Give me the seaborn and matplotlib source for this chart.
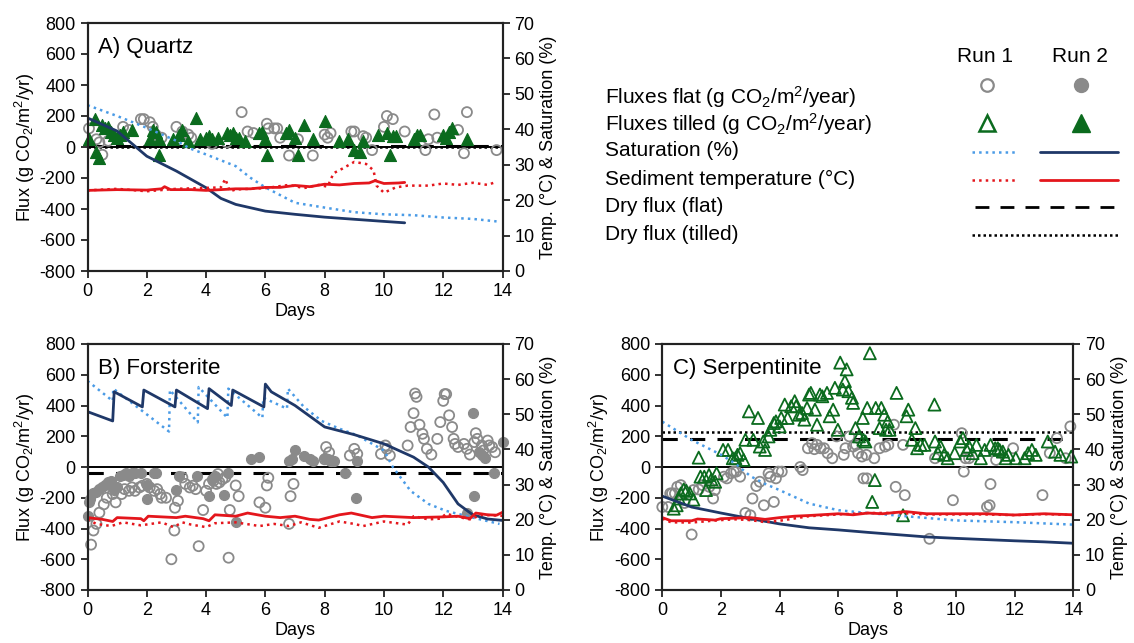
import numpy as np
import matplotlib
matplotlib.use("Agg")
import matplotlib.pyplot as plt
import seaborn as sns

# ---- data (flux in g CO2/m2/yr, temperature in degC, saturation in %) ----
# Panel A: Quartz
a_flat1 = [(0.05, 120), (0.3, 50), (0.4, 30), (0.5, -50), (0.7, 40), (1.2, 130), (1.4, 110),
           (1.8, 180), (1.9, 180), (2.1, 160), (2.2, 130), (2.3, 80), (2.5, 60), (3.0, 130),
           (3.2, 100), (3.4, 80), (3.5, 60), (4.1, 40), (4.2, 20), (4.7, 30), (5.2, 225),
           (5.4, 100), (5.6, 90), (6.05, 150), (6.1, 120), (6.3, 120), (6.4, 120), (6.5, 60),
           (6.8, -55), (7.1, 50), (7.6, -55), (8.0, 80), (8.1, 60), (8.2, 90), (8.9, 100),
           (9.0, 100), (9.3, 70), (9.4, 60), (9.6, -20), (10.0, 130), (10.1, 200), (10.3, 180),
           (10.7, 100), (11.4, -20), (11.5, 50), (11.7, 210), (11.8, 60), (12.5, 110),
           (12.7, -40), (12.8, 225), (13.8, -20)]
a_tilled2 = [(0.05, 50), (0.25, 180), (0.3, -30), (0.4, -70), (0.5, 140), (0.6, 120), (0.7, 130),
             (0.8, 100), (0.9, 80), (1.0, 60), (1.1, 80), (1.2, 100), (1.5, 110), (2.1, 50),
             (2.2, 110), (2.3, 100), (2.4, 50), (2.4, -50), (2.9, 50), (3.1, 80), (3.2, 110),
             (3.4, 40), (3.65, 190), (3.8, 50), (4.0, 60), (4.1, 70), (4.2, 50), (4.4, 60),
             (4.7, 90), (4.8, 80), (4.9, 90), (5.0, 60), (5.1, 60), (5.3, 40), (5.8, 90),
             (5.9, 100), (6.0, 50), (6.05, -50), (6.7, 90), (6.8, 110), (7.0, 60), (7.1, -50),
             (7.3, 140), (7.6, 50), (8.0, 170), (8.5, 40), (8.8, 50), (9.0, -20), (9.2, -30),
             (9.3, 40), (9.8, 80), (10.1, 90), (10.2, -50), (10.3, 70), (10.4, 70), (11.0, 50),
             (11.1, 80), (11.2, 80), (12.0, 80), (12.1, 60), (12.3, 120), (12.2, 100), (12.8, 50)]
a_sat1_day = [0, 1, 2, 3, 3.45, 4, 5, 5.5, 6, 7, 8, 9, 10, 11, 12, 13, 13.8]
a_sat1 = [46.8, 43.75, 40.4, 36.75, 34.6, 32.9, 29.6, 26.3, 23.6, 19.25, 17.9, 16.6, 16.0, 15.75, 15.1, 14.7, 14.0]
a_sat2_day = [0, 1, 2, 3, 4, 4.5, 5, 6, 7, 8, 9, 10, 10.7]
a_sat2 = [43.2, 39.5, 32.4, 28.2, 23.5, 20.5, 18.8, 16.9, 16.0, 15.2, 14.6, 14.0, 13.6]
a_temp1_day = [0, 1, 2, 3, 3.8, 4.5, 4.65, 4.8, 5, 6, 6.8, 7.3, 7.8, 8.1, 8.3, 8.6, 9.0, 9.4,
               9.65, 9.75, 10, 10.4, 10.8, 11.5, 12, 12.5, 13, 13.5, 13.8]
a_temp1 = [22.75, 23.2, 22.5, 23.2, 23.4, 23.6, 26.0, 22.5, 23.0, 23.4, 24.3, 23.4, 24.3, 23.8,
           27.6, 28.9, 30.8, 30.2, 28.4, 24.1, 22.1, 23.6, 24.1, 24.1, 24.7, 24.3, 24.9, 24.3, 25.2]
a_temp2_day = [0, 1, 2, 2.5, 2.6, 2.8, 3.5, 4, 4.5, 5, 5.5, 6, 6.5, 7, 7.5, 8, 8.5, 9, 9.5, 9.7, 10, 10.5, 10.7]
a_temp2 = [22.75, 22.97, 22.84, 23.2, 23.8, 22.97, 22.97, 22.75, 22.97, 23.2, 23.2, 23.6, 23.6,
           24.15, 23.8, 24.5, 24.3, 24.7, 24.85, 25.5, 24.7, 24.85, 25.0]
a_dry_flat, a_dry_tilled = 8, 0

# Panel B: Forsterite
b_flat1 = [(0.12, -505), (0.2, -413), (0.3, -370), (0.4, -297), (0.55, -243), (0.65, -200),
           (0.85, -176), (0.95, -230), (1.15, -176), (1.25, -144), (1.4, -155), (1.5, -133),
           (1.6, -155), (1.75, -133), (1.85, -122), (2.0, -110), (2.1, -133), (2.25, -155),
           (2.35, -144), (2.45, -176), (2.5, -200), (2.65, -200), (2.83, -600), (2.93, -413),
           (2.95, -265), (3.05, -220), (3.2, -68), (3.3, -110), (3.45, -133), (3.55, -122),
           (3.65, -144), (3.75, -515), (3.9, -280), (4.0, -155), (4.1, -110), (4.25, -90),
           (4.35, -110), (4.4, -46), (4.45, -100), (4.55, -80), (4.65, -68), (4.76, -590),
           (4.8, -280), (5.0, -120), (5.1, -190), (5.8, -230), (6.0, -265), (6.05, -120),
           (6.1, -70), (6.8, -370), (6.85, -190), (6.95, -110), (8.0, 50), (8.05, 130),
           (8.15, 95), (8.2, 40), (8.85, 75), (9.0, 118), (9.1, 85), (9.9, 85), (10.05, 140),
           (10.1, 118), (10.2, 75), (10.8, 140), (10.9, 260), (11.0, 350), (11.05, 478),
           (11.1, 456), (11.2, 275), (11.3, 216), (11.35, 183), (11.45, 118), (11.6, 81),
           (11.8, 183), (11.9, 292), (12.0, 430), (12.05, 474), (12.1, 474), (12.2, 336),
           (12.3, 260), (12.35, 183), (12.4, 150), (12.5, 130), (12.7, 150), (12.8, 118),
           (12.9, 81), (13.05, 162), (13.1, 220), (13.15, 183), (13.3, 140), (13.35, 107),
           (13.5, 172), (13.55, 140), (13.65, 130), (13.75, 96)]
b_flat2 = [(0.0, -320), (0.05, -230), (0.1, -210), (0.2, -170), (0.3, -160), (0.4, -140),
           (0.5, -130), (0.6, -120), (0.7, -100), (0.8, -90), (0.9, -150), (1.0, -130),
           (1.1, -60), (1.2, -50), (1.3, -40), (1.4, -60), (1.5, -40), (1.6, -40), (1.8, -40),
           (2.0, -120), (2.0, -210), (2.25, -40), (2.3, -40), (3.0, -150), (3.1, -60),
           (3.7, -60), (4.1, -190), (4.2, -80), (4.3, -60), (4.6, -180), (4.75, -40),
           (5.0, -360), (5.5, 55), (5.8, 65), (6.8, 40), (6.9, 50), (7.0, 110), (7.3, 70),
           (7.5, 50), (7.6, 40), (8.0, 60), (8.1, 50), (8.2, 40), (8.3, 40), (8.7, -40),
           (9.05, -200), (9.1, 40), (12.8, -300), (13.0, 350), (13.05, -190), (13.2, 100),
           (13.3, 80), (13.4, 60), (13.7, -40), (14.0, 160)]
b_sat1_day = [0, 0.85, 0.87, 2.75, 2.78, 3.72, 3.75, 4.72, 4.75, 5.9, 5.93, 6.73, 6.76, 7.3,
              7.9, 8.5, 9.1, 10, 10.3, 10.9, 11.5, 12.1, 13, 13.9]
b_sat1 = [59.5, 53.8, 57.3, 45.1, 56.9, 47.7, 57.75, 49.0, 57.3, 49.0, 54.7, 51.6, 57.3, 52.1,
          48.1, 45.9, 44.0, 39.7, 35.0, 28.2, 24.5, 22.5, 20.6, 18.8]
b_sat2_day = [0, 0.85, 0.9, 1.85, 1.9, 2.95, 3.0, 4.05, 4.1, 4.85, 4.9, 5.95, 6.0, 6.2, 7, 8,
              9, 10, 11, 11.5, 12, 12.5, 13, 13.5, 14]
b_sat2 = [50.75, 48.1, 56.4, 52.1, 56.9, 52.1, 56.9, 51.6, 57.3, 52.5, 56.9, 52.1, 58.6, 56.4,
          52.5, 46.4, 44.2, 41.6, 37.8, 35.0, 30.6, 24.5, 21.4, 20.2, 19.8]
b_temp1_day = [0, 0.3, 0.8, 1.2, 1.8, 2.5, 2.9, 3.2, 3.5, 4.0, 4.3, 5.0, 5.8, 6.3, 6.8, 7.2,
               7.8, 8.5, 9.0, 9.3, 10, 10.8, 11.0, 11.5, 11.9, 12.1, 12.5, 12.9, 13.3, 14]
b_temp1 = [20.1, 18.8, 18.2, 19.25, 18.4, 19.25, 17.9, 19.25, 18.6, 17.9, 19.0, 19.25, 18.2,
           18.8, 18.2, 19.25, 17.7, 19.5, 18.8, 18.2, 19.5, 18.6, 21.0, 20.1, 20.3, 21.7, 20.8,
           20.1, 21.4, 21.1]
b_temp2_day = [0, 0.5, 0.85, 1.0, 1.8, 1.9, 2.05, 3, 3.3, 3.9, 4.1, 4.3, 5, 5.4, 6, 6.5, 7,
               7.5, 7.8, 8.5, 8.9, 9.6, 10, 11, 12, 12.5, 12.9, 13.1, 13.5, 13.8, 14]
b_temp2 = [20.6, 20.1, 19.5, 20.6, 20.3, 19.7, 21.0, 20.6, 21.0, 20.3, 19.7, 21.4, 21.0, 21.9,
           21.0, 20.6, 21.0, 20.1, 19.9, 21.4, 21.9, 20.6, 21.0, 20.6, 20.8, 21.0, 20.3, 21.9,
           21.4, 21.3, 22.1]
b_dry_flat = -40

# Panel C: Serpentinite
c_flat1 = [(0.0, -260), (0.2, -260), (0.27, -172), (0.33, -172), (0.43, -172), (0.51, -129),
           (0.63, -118), (0.76, -234), (1.0, -439), (1.06, -150), (1.24, -146), (1.37, -118),
           (1.6, -129), (1.73, -205), (1.79, -150), (2.1, -63), (2.2, -74), (2.34, -41),
           (2.44, -30), (2.52, -30), (2.65, -63), (2.83, -299), (3.0, -314), (3.07, -205),
           (3.2, -124), (3.32, -96), (3.46, -249), (3.62, -41), (3.68, -63), (3.8, -227),
           (3.87, -74), (3.95, -30), (4.07, -30), (4.7, 0), (4.78, -20), (4.96, 122),
           (5.1, 155), (5.18, 116), (5.27, 144), (5.39, 122), (5.51, 122), (5.63, 90),
           (5.79, 57), (5.94, 199), (6.18, 79), (6.24, 122), (6.37, 199), (6.5, 133),
           (6.6, 144), (6.67, 90), (6.8, 68), (6.85, -74), (6.97, -74), (6.95, 79), (7.22, 57),
           (7.4, 122), (7.59, 133), (7.7, 144), (7.89, 275), (7.95, -129), (8.2, 144),
           (8.26, -183), (9.1, -467), (9.29, 57), (9.9, -216), (10.2, 220), (10.27, -30),
           (10.33, 57), (10.45, 57), (11.06, -260), (11.15, -249), (11.18, -111), (11.37, 46),
           (11.95, 122), (12.95, -183), (13.2, 90), (13.44, 188), (13.74, 57), (13.9, 264)]
c_tilled1 = [(0.39, -271), (0.49, -249), (0.57, -205), (0.63, -172), (0.73, -146), (0.82, -155),
             (0.94, -172), (1.06, -212), (1.24, 61), (1.3, -63), (1.43, -63), (1.49, -150),
             (1.59, -52), (1.67, -81), (1.8, -96), (1.85, -41), (2.07, 111), (2.24, 111),
             (2.4, 57), (2.49, 57), (2.56, 79), (2.65, 90), (2.77, 46), (2.83, 177), (2.95, 362),
             (3.1, 177), (3.26, 319), (3.32, 133), (3.44, 166), (3.5, 111), (3.62, 199),
             (3.68, 242), (3.8, 286), (3.87, 297), (4.0, 264), (4.05, 319), (4.17, 406),
             (4.27, 319), (4.39, 395), (4.51, 428), (4.56, 395), (4.66, 340), (4.76, 351),
             (4.84, 308), (4.93, 384), (5.0, 471), (5.06, 482), (5.2, 373), (5.27, 275),
             (5.37, 471), (5.45, 460), (5.61, 482), (5.7, 330), (5.82, 373), (5.88, 515),
             (5.98, 242), (6.06, 679), (6.15, 504), (6.22, 558), (6.28, 635), (6.34, 493),
             (6.46, 450), (6.5, 417), (6.58, 253), (6.7, 199), (6.83, 319), (6.85, 177),
             (6.92, 166), (6.98, 384), (7.07, 740), (7.15, -227), (7.24, -85), (7.27, 384),
             (7.4, 253), (7.46, 384), (7.56, 340), (7.62, 242), (7.68, 297), (7.74, 242),
             (7.98, 482), (8.2, -314), (8.32, 330), (8.38, 373), (8.5, 177), (8.62, 253),
             (8.68, 122), (8.8, 144), (8.93, 144), (9.27, 406), (9.29, 166), (9.39, 90),
             (9.48, 133), (9.6, 79), (9.72, 57), (9.96, 90), (10.15, 166), (10.24, 188),
             (10.37, 111), (10.45, 133), (10.57, 90), (10.7, 144), (10.85, 57), (10.98, 111),
             (11.18, 144), (11.34, 122), (11.43, 122), (11.49, 111), (11.6, 100), (11.7, 57),
             (11.79, 79), (12.04, 57), (12.34, 57), (12.46, 90), (12.59, 111), (12.72, 79),
             (13.13, 166), (13.38, 100), (13.56, 79), (13.93, 68)]
c_sat1_day = [0, 1, 2, 2.5, 3, 3.5, 4, 5, 6, 7, 8, 9, 10, 12, 14]
c_sat1 = [47.9, 42.7, 38.5, 35.9, 32.4, 30.2, 28.4, 24.6, 22.7, 21.9, 21.2, 20.5, 19.8, 19.3, 18.6]
c_sat2_day = [0, 1, 2, 3, 4, 5, 6, 7, 8, 9, 10, 11, 12, 13, 14]
c_sat2 = [26.7, 23.6, 21.9, 20.3, 18.8, 17.7, 17.1, 16.4, 15.75, 15.1, 14.7, 14.35, 14.0, 13.7, 13.3]
c_temp1_day = [0, 0.3, 1, 2, 2.5, 3, 3.5, 4, 5, 6, 7, 8, 9, 10, 11, 12, 13, 14]
c_temp1 = [20.3, 19.25, 19.2, 19.9, 20.1, 19.9, 19.3, 19.7, 21.0, 21.5, 21.9, 21.95, 21.5, 21.5,
           21.5, 21.3, 21.6, 21.35]
c_temp2_day = [0, 0.3, 1, 1.2, 1.8, 2, 3, 3.5, 4, 4.5, 5, 6, 6.5, 7, 7.5, 8, 8.3, 9, 10, 11, 12, 13, 14]
c_temp2 = [20.6, 19.7, 19.7, 20.2, 19.9, 20.3, 20.6, 20.1, 20.6, 21.0, 21.2, 21.7, 21.4, 21.9,
           21.7, 22.1, 22.3, 21.7, 21.7, 21.7, 21.35, 21.7, 21.4]
c_dry_flat, c_dry_tilled = 180, 225

# ---- style ----
sns.set_style("ticks")
plt.rcParams["font.family"] = ["Liberation Sans", "DejaVu Sans"]
plt.rcParams["mathtext.fontset"] = "custom"
plt.rcParams["mathtext.rm"] = "Liberation Sans"
plt.rcParams["mathtext.it"] = "Liberation Sans:italic"
plt.rcParams["axes.unicode_minus"] = False
plt.rcParams["text.color"] = "black"
plt.rcParams["axes.labelcolor"] = "black"
plt.rcParams["xtick.color"] = "black"
plt.rcParams["ytick.color"] = "black"

GRAY = "#8a8a8a"
GREEN = "#0b6b1e"
NAVY = "#1f3868"
LBLUE = "#4a9be6"
RED = "#e4161c"
FS = 13

fig = plt.figure(figsize=(11.34, 6.43), dpi=100)


def make_panel(rect, title):
    ax = fig.add_axes(rect)
    ax2 = ax.twinx()
    ax.set_xlim(0, 14)
    ax.set_ylim(-800, 800)
    ax2.set_ylim(0, 70)
    ax.set_xticks(range(0, 15, 2))
    ax.set_yticks(range(-800, 801, 200))
    ax2.set_yticks(range(0, 71, 10))
    for a in (ax, ax2):
        a.tick_params(labelsize=FS, direction="out", length=5, width=1.3, color="#222",
                      labelcolor="black")
        for s in a.spines.values():
            s.set_linewidth(1.5)
            s.set_color("#222")
    ax.set_xlabel("Days", fontsize=FS, labelpad=2)
    ax.set_ylabel("Flux (g CO$_2$/m$^2$/yr)", fontsize=FS, labelpad=2)
    ax2.set_ylabel("Temp. (°C) & Saturation (%)", fontsize=FS, labelpad=4)
    ax.axhline(0, color="black", lw=1.4, zorder=1)
    ax.text(0.025, 0.9, title, transform=ax.transAxes, fontsize=16, va="center")
    return ax, ax2


def scat(ax, pts, marker, filled, color, s):
    pts = np.array(pts)
    if filled:
        sns.scatterplot(x=pts[:, 0], y=pts[:, 1], ax=ax, marker=marker, s=s, color=color,
                        edgecolor=color, linewidth=0.8, zorder=3, clip_on=False)
    else:
        sns.scatterplot(x=pts[:, 0], y=pts[:, 1], ax=ax, marker=marker, s=s,
                        facecolors="none", edgecolor=color, linewidth=1.3, zorder=3, clip_on=False)


def line(ax, xs, ys, color, dotted):
    sns.lineplot(x=xs, y=ys, ax=ax, color=color, estimator=None, sort=False,
                 lw=1.8 if dotted else 2.0, linestyle=":" if dotted else "-")


def dry(ax, val, tilled):
    if tilled:
        ax.axhline(val, color="black", lw=1.8, linestyle=(0, (1, 1.2)), zorder=2)
    else:
        ax.axhline(val, color="black", lw=2.2, linestyle=(0, (5, 4)), zorder=2)


W = 415 / 1134
axA, axA2 = make_panel([87.5 / 1134, 1 - 271 / 643, W, 248 / 643], "A) Quartz")
axB, axB2 = make_panel([87.5 / 1134, 1 - 590 / 643, W, 246 / 643], "B) Forsterite")
axC, axC2 = make_panel([662.3 / 1134, 1 - 590 / 643, 411 / 1134, 246 / 643], "C) Serpentinite")

# Panel A
dry(axA, a_dry_tilled, True)
dry(axA, a_dry_flat, False)
scat(axA, a_flat1, "o", False, GRAY, 52)
scat(axA, a_tilled2, "^", True, GREEN, 75)
line(axA2, a_sat1_day, a_sat1, LBLUE, True)
line(axA2, a_sat2_day, a_sat2, NAVY, False)
line(axA2, a_temp1_day, a_temp1, RED, True)
line(axA2, a_temp2_day, a_temp2, RED, False)

# Panel B
dry(axB, b_dry_flat, False)
scat(axB, b_flat1, "o", False, GRAY, 52)
scat(axB, b_flat2, "o", True, GRAY, 52)
line(axB2, b_sat1_day, b_sat1, LBLUE, True)
line(axB2, b_sat2_day, b_sat2, NAVY, False)
line(axB2, b_temp1_day, b_temp1, RED, True)
line(axB2, b_temp2_day, b_temp2, RED, False)

# Panel C
dry(axC, c_dry_tilled, True)
dry(axC, c_dry_flat, False)
scat(axC, c_flat1, "o", False, GRAY, 52)
scat(axC, c_tilled1, "^", False, GREEN, 75)
line(axC2, c_sat1_day, c_sat1, LBLUE, True)
line(axC2, c_sat2_day, c_sat2, NAVY, False)
line(axC2, c_temp1_day, c_temp1, RED, True)
line(axC2, c_temp2_day, c_temp2, RED, False)

# ---- custom legend (pixel coordinates of the figure) ----
lg = fig.add_axes([0, 0, 1, 1], zorder=-1)
lg.set_xlim(0, 1134)
lg.set_ylim(643, 0)
lg.axis("off")
LFS = 15
lg.text(985, 57, "Run 1", fontsize=LFS, ha="center", va="center")
lg.text(1080, 57, "Run 2", fontsize=LFS, ha="center", va="center")
labels = ["Fluxes flat (g CO$_2$/m$^2$/year)", "Fluxes tilled (g CO$_2$/m$^2$/year)",
          "Saturation (%)", "Sediment temperature (°C)", "Dry flux (flat)", "Dry flux (tilled)"]
rows = [97, 124, 151, 179, 206, 234]
for lab, yy in zip(labels, rows):
    lg.text(605, yy, lab, fontsize=LFS, ha="left", va="center")
lg.plot([987], [85], marker="o", ms=9, mfc="none", mec=GRAY, mew=1.6)
lg.plot([1081], [85], marker="o", ms=10, mfc=GRAY, mec=GRAY)
lg.plot([987], [123], marker="^", ms=12, mfc="none", mec=GREEN, mew=1.8)
lg.plot([1081], [123], marker="^", ms=13, mfc=GREEN, mec=GREEN)
lg.plot([972, 1016], [152, 152], color=LBLUE, lw=1.8, linestyle=":")
lg.plot([1040, 1118], [152, 152], color=NAVY, lw=2.0)
lg.plot([972, 1016], [180, 180], color=RED, lw=1.8, linestyle=":")
lg.plot([1040, 1118], [180, 180], color=RED, lw=2.0)
lg.plot([975, 1115], [207, 207], color="black", lw=2.0, linestyle=(0, (5, 4)))
lg.plot([972, 1118], [235, 235], color="black", lw=1.8, linestyle=(0, (1, 1.2)))

fig.savefig("out.png", dpi=100)
